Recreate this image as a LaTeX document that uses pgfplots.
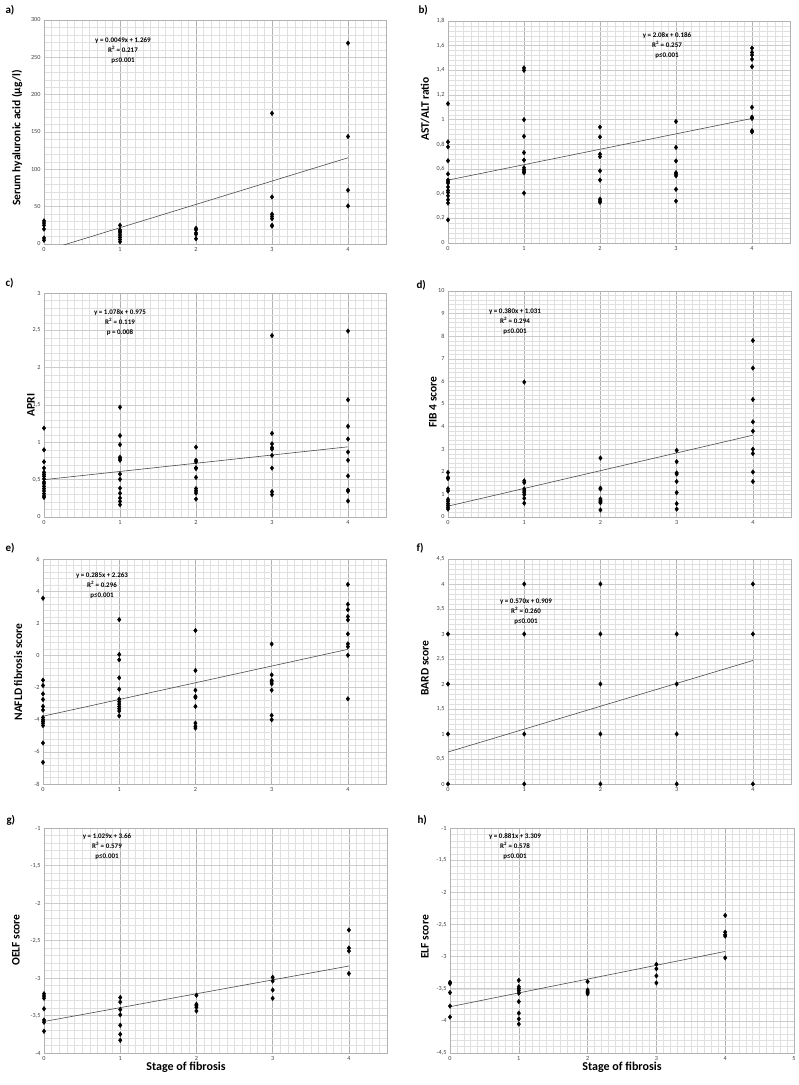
\documentclass[border=0pt]{standalone}
\usepackage{pgfplots}
\pgfplotsset{compat=1.18}
\usepackage{fontspec}
\setmainfont{Carlito}
\pgfplotsset{
 panel/.style={scale only axis, width=342pt, height=224pt, xmin=0, xmax=4.5,
  xtick={0,1,2,3,4}, minor xtick={0,0.1,...,4.55}, grid=both,
  major x grid style={gray!60, line width=0.6pt},
  major y grid style={gray!40, line width=0.6pt},
  minor grid style={gray!24, line width=0.45pt},
  axis line style={gray!60}, tick style={draw=none},
  ticklabel style={font=\fontsize{6.2}{7}\selectfont, text=black!75},
  /pgf/number format/assume math mode=true, /pgf/number format/use comma,
  /pgf/number format/1000 sep={}, scaled y ticks=false, anchor=south west},
 pts/.style={only marks, mark=diamond*, mark size=2.3pt, black},
 trend/.style={no marks, black!70, line width=0.6pt}
}
\newcommand{\eqn}[4]{\node[font=\bfseries\fontsize{7}{10}\selectfont, align=center] at (#1) {#2\\R\textsuperscript{2} = #3\\#4};}
\newcommand{\plab}[2]{\node[font=\bfseries\fontsize{11}{12}\selectfont, anchor=west] at (#1) {#2};}
\newcommand{\ylab}[2]{\node[font=\bfseries\fontsize{11.5}{12}\selectfont, rotate=90] at (#1) {#2};}
\begin{document}
\begin{tikzpicture}
\path[use as bounding box] (0,0) rectangle (799pt,-1085pt);
% a
\begin{axis}[panel, at={(44pt,-244pt)}, ymin=0, ymax=300, ytick={0,50,100,150,200,250,300}, minor ytick={0,10,...,300}]
\addplot[pts] coordinates {(0,31)(0,28)(0,25)(0,20)(0,8)(0,5)
(1,25)(1,19)(1,17)(1,15)(1,12)(1,9)(1,6)(1,3)
(2,21)(2,19)(2,15)(2,13)(2,7)
(3,175)(3,63)(3,40)(3,37)(3,34)(3,25)(3,24)
(4,269)(4,144)(4,72)(4,51)};
\addplot[trend] coordinates {(0,-9.4)(4,115.5)};
\end{axis}
% b
\begin{axis}[panel, at={(448pt,-243pt)}, height=222pt, ymin=0, ymax=1.8, ytick={0,0.2,0.4,0.6,0.8,1,1.2,1.4,1.6,1.8}, minor ytick={0,0.04,...,1.81}]
\addplot[pts] coordinates {(0,1.13)(0,0.82)(0,0.78)(0,0.667)(0,0.56)(0,0.51)(0,0.497)(0,0.486)(0,0.454)(0,0.426)(0,0.41)(0,0.383)(0,0.351)(0,0.324)(0,0.187)
(1,1.42)(1,1.40)(1,1.0)(1,0.865)(1,0.733)(1,0.672)(1,0.61)(1,0.593)(1,0.58)(1,0.57)(1,0.405)
(2,0.94)(2,0.86)(2,0.72)(2,0.70)(2,0.585)(2,0.51)(2,0.355)(2,0.34)(2,0.33)
(3,0.985)(3,0.775)(3,0.665)(3,0.57)(3,0.56)(3,0.545)(3,0.435)(3,0.34)
(4,1.58)(4,1.545)(4,1.525)(4,1.49)(4,1.43)(4,1.10)(4,1.02)(4,1.01)(4,0.91)(4,0.90)};
\addplot[trend] coordinates {(0,0.51)(4,1.01)};
\end{axis}
% c
\begin{axis}[panel, at={(44pt,-517pt)}, ymin=0, ymax=3, ytick={0,0.5,1,1.5,2,2.5,3}, minor ytick={0,0.1,...,3.01}]
\addplot[pts] coordinates {(0,1.19)(0,0.90)(0,0.74)(0,0.655)(0,0.598)(0,0.571)(0,0.545)(0,0.509)(0,0.469)(0,0.447)(0,0.411)(0,0.38)(0,0.348)(0,0.313)(0,0.281)(0,0.262)
(1,1.47)(1,1.09)(1,0.97)(1,0.80)(1,0.78)(1,0.76)(1,0.575)(1,0.505)(1,0.385)(1,0.318)(1,0.254)(1,0.21)(1,0.165)
(2,0.935)(2,0.76)(2,0.74)(2,0.66)(2,0.65)(2,0.53)(2,0.38)(2,0.35)(2,0.32)(2,0.24)
(3,2.43)(3,1.12)(3,0.98)(3,0.93)(3,0.91)(3,0.825)(3,0.655)(3,0.34)(3,0.30)
(4,2.49)(4,1.57)(4,1.215)(4,1.045)(4,0.87)(4,0.76)(4,0.55)(4,0.36)(4,0.345)(4,0.215)};
\addplot[trend] coordinates {(0,0.50)(4,0.94)};
\end{axis}
% d
\begin{axis}[panel, at={(448pt,-517pt)}, width=343pt, height=226pt, ymin=0, ymax=10, ytick={0,1,...,10}, minor ytick={0,0.2,...,10.01}]
\addplot[pts] coordinates {(0,1.97)(0,1.75)(0,1.70)(0,1.25)(0,1.15)(0,0.78)(0,0.70)(0,0.60)(0,0.52)(0,0.43)(0,0.35)
(1,5.97)(1,1.60)(1,1.52)(1,1.24)(1,1.15)(1,1.08)(1,0.99)(1,0.83)(1,0.61)
(2,2.61)(2,1.28)(2,1.24)(2,0.80)(2,0.74)(2,0.68)(2,0.63)(2,0.31)
(3,2.95)(3,2.45)(3,1.95)(3,1.90)(3,1.57)(3,1.08)(3,0.59)(3,0.35)
(4,7.81)(4,6.59)(4,5.20)(4,4.21)(4,3.80)(4,3.00)(4,2.81)(4,1.99)(4,1.57)};
\addplot[trend] coordinates {(0,0.48)(4,3.62)};
\end{axis}
% e
\begin{axis}[panel, at={(43pt,-784pt)}, width=343pt, height=225pt, ymin=-8, ymax=6, ytick={-8,-6,-4,-2,0,2,4,6}, minor ytick={-8,-7.6,...,6.01}]
\addplot[pts] coordinates {(0,3.56)(0,-1.54)(0,-1.87)(0,-2.39)(0,-2.74)(0,-3.17)(0,-3.40)(0,-3.86)(0,-4.0)(0,-4.1)(0,-4.22)(0,-4.36)(0,-5.45)(0,-6.65)
(1,2.23)(1,0.06)(1,-0.27)(1,-1.39)(1,-2.10)(1,-2.72)(1,-2.88)(1,-3.03)(1,-3.18)(1,-3.32)(1,-3.46)(1,-3.76)
(2,1.55)(2,-0.94)(2,-2.16)(2,-2.55)(2,-2.62)(2,-3.17)(2,-4.21)(2,-4.40)(2,-4.52)
(3,0.71)(3,-1.21)(3,-1.55)(3,-1.65)(3,-1.77)(3,-2.16)(3,-3.73)(3,-4.0)
(4,4.42)(4,3.18)(4,2.85)(4,2.42)(4,2.21)(4,1.34)(4,0.72)(4,0.55)(4,0.01)(4,-2.70)};
\addplot[trend] coordinates {(0,-3.78)(4,0.38)};
\end{axis}
% f
\begin{axis}[panel, at={(448pt,-784pt)}, width=343pt, height=225pt, ymin=0, ymax=4.5, ytick={0,0.5,1,1.5,2,2.5,3,3.5,4,4.5}, minor ytick={0,0.1,...,4.51}]
\addplot[pts] coordinates {(0,3)(0,2)(0,1)(0,0)
(1,4)(1,3)(1,1)(1,0)
(2,4)(2,3)(2,2)(2,1)(2,0)
(3,3)(3,2)(3,1)(3,0)
(4,4)(4,3)(4,0)};
\addplot[trend] coordinates {(0,0.64)(4,2.47)};
\end{axis}
% g
\begin{axis}[panel, at={(44pt,-1053pt)}, width=343pt, height=225pt, ymin=-4, ymax=-1, ytick={-4,-3.5,-3,-2.5,-2,-1.5,-1}, minor ytick={-4,-3.9,...,-0.99}]
\addplot[pts] coordinates {(0,-3.21)(0,-3.24)(0,-3.27)(0,-3.41)(0,-3.56)(0,-3.59)(0,-3.71)
(1,-3.26)(1,-3.32)(1,-3.42)(1,-3.49)(1,-3.63)(1,-3.75)(1,-3.83)
(2,-3.23)(2,-3.35)(2,-3.37)(2,-3.39)(2,-3.44)
(3,-2.99)(3,-3.04)(3,-3.16)(3,-3.27)
(4,-2.36)(4,-2.60)(4,-2.64)(4,-2.94)};
\addplot[trend] coordinates {(0,-3.58)(4,-2.84)};
\end{axis}
% h
\begin{axis}[panel, at={(450pt,-1053pt)}, width=344pt, height=225pt, xmax=5, xtick={0,1,2,3,4,5}, minor xtick={0,0.1,...,5.01}, ymin=-4.5, ymax=-1, ytick={-4.5,-4,-3.5,-3,-2.5,-2,-1.5,-1}, minor ytick={-4.5,-4.4,...,-0.99}]
\addplot[pts] coordinates {(0,-3.40)(0,-3.42)(0,-3.56)(0,-3.77)(0,-3.94)
(1,-3.37)(1,-3.47)(1,-3.50)(1,-3.53)(1,-3.57)(1,-3.70)(1,-3.88)(1,-3.97)(1,-4.05)
(2,-3.39)(2,-3.52)(2,-3.54)(2,-3.56)(2,-3.58)
(3,-3.12)(3,-3.19)(3,-3.30)(3,-3.41)
(4,-2.36)(4,-2.62)(4,-2.66)(4,-2.68)(4,-3.02)};
\addplot[trend] coordinates {(0,-3.78)(4,-2.92)};
\end{axis}
% panel letters
\plab{2pt,-10pt}{a)}
\plab{415pt,-10pt}{b)}
\plab{2pt,-283pt}{c)}
\plab{413pt,-285pt}{d)}
\plab{2pt,-548pt}{e)}
\plab{413pt,-548pt}{f)}
\plab{3pt,-820pt}{g)}
\plab{414pt,-820pt}{h)}
% y labels
\ylab{17pt,-138pt}{Serum hyaluronic acid (µg/l)}
\ylab{425pt,-109pt}{AST/ALT ratio}
\ylab{31pt,-405pt}{APRI}
\ylab{433pt,-402pt}{FIB 4 score}
\ylab{18pt,-672pt}{NAFLD fibrosis score}
\ylab{425pt,-668pt}{BARD score}
\ylab{16pt,-940pt}{OELF score}
\ylab{425pt,-937pt}{ELF score}
% x labels
\node[font=\bfseries\fontsize{12}{13}\selectfont] at (186pt,-1067pt) {Stage of fibrosis};
\node[font=\bfseries\fontsize{12}{13}\selectfont] at (622pt,-1067pt) {Stage of fibrosis};
% equations
\eqn{123pt,-51pt}{y = 0.0049x + 1.269}{0.217}{p≤0.001}
\eqn{667pt,-46pt}{y = 2.08x + 0.186}{0.257}{p≤0.001}
\eqn{120pt,-323pt}{y = 1.078x + 0.975}{0.119}{p = 0.008}
\eqn{515pt,-322pt}{y = 0.380x + 1.031}{0.294}{p≤0.001}
\eqn{102pt,-586pt}{y = 0.285x + 2.263}{0.296}{p≤0.001}
\eqn{526pt,-612pt}{y = 0.570x + 0.909}{0.260}{p≤0.001}
\eqn{107pt,-847pt}{y = 1.029x + 3.66}{0.579}{p≤0.001}
\eqn{515pt,-847pt}{y = 0.881x + 3.309}{0.578}{p≤0.001}
\end{tikzpicture}
\end{document}
